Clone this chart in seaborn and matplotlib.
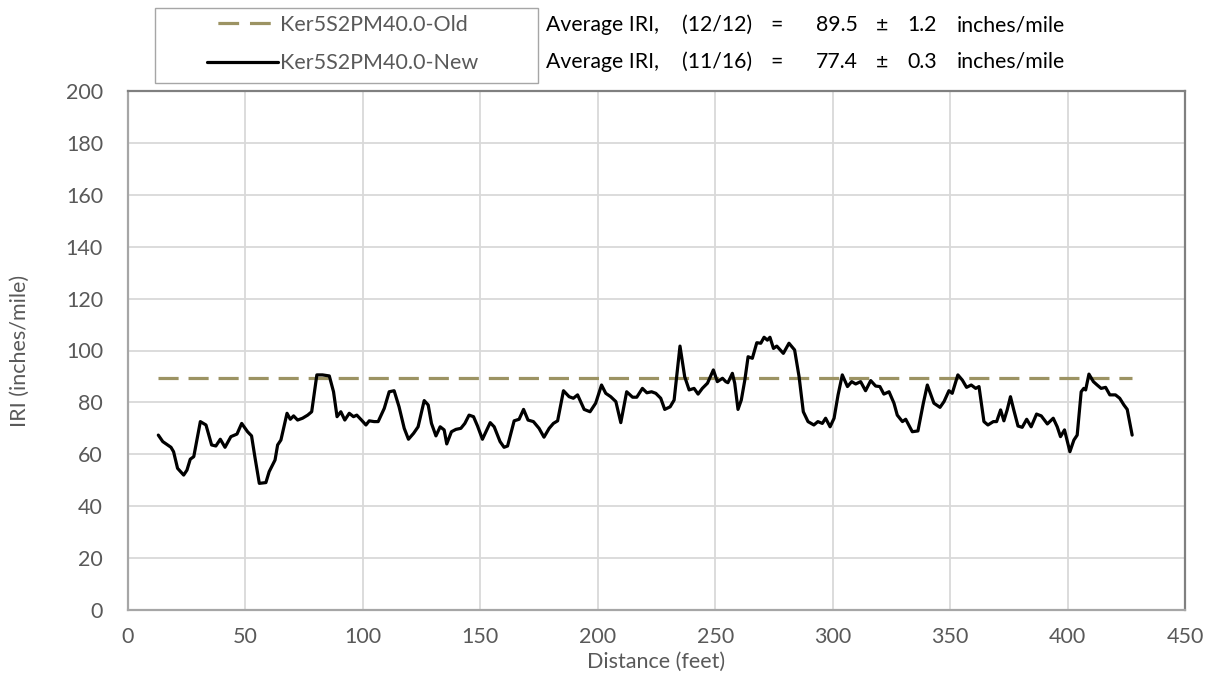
import matplotlib
matplotlib.use("Agg")
import matplotlib.pyplot as plt
from matplotlib.patches import Rectangle
from matplotlib.lines import Line2D
import numpy as np
import pandas as pd
import seaborn as sns

# Profile data: IRI along the section (new survey)
distance_ft = [
    12.9, 14.8, 18.3, 19.4, 21.1, 23.7, 25.1, 26.5, 28.0, 30.8, 33.2, 35.6, 37.4, 39.3,
    41.3, 43.8, 46.4, 48.4, 50.9, 52.6, 54.0, 55.9, 58.7, 60.1, 62.6, 63.7, 65.1, 67.7,
    69.1, 70.5, 72.2, 74.3, 76.5, 78.2, 80.4, 82.8, 85.7, 87.5, 89.0, 90.6, 92.3, 94.2,
    96.0, 97.4, 99.4, 101.3, 102.7, 104.8, 106.5, 109.1, 111.2, 113.3, 115.4, 117.6,
    119.4, 121.6, 123.5, 126.1, 127.8, 129.2, 131.1, 132.9, 134.6, 135.7, 137.7, 139.6,
    141.7, 143.4, 145.2, 147.1, 148.8, 150.9, 154.2, 155.9, 158.4, 160.1, 161.6, 164.4,
    166.5, 168.4, 170.3, 172.6, 175.0, 177.1, 179.3, 181.1, 182.9, 185.4, 187.8, 189.6,
    191.4, 194.2, 196.7, 199.1, 201.6, 203.4, 205.5, 207.7, 209.8, 212.3, 214.8, 216.6,
    219.0, 220.9, 222.9, 224.7, 226.8, 228.5, 230.8, 232.5, 233.9, 235.0, 237.0, 238.9,
    241.0, 242.7, 244.5, 246.7, 249.2, 250.9, 253.1, 254.5, 255.4, 257.3, 258.3, 259.7,
    261.1, 262.6, 264.0, 265.8, 267.7, 269.4, 270.8, 272.2, 273.3, 274.8, 276.2, 279.0,
    280.7, 281.4, 283.8, 285.7, 287.5, 289.5, 292.0, 293.7, 295.6, 297.0, 298.9, 300.6,
    302.3, 304.1, 306.3, 308.1, 309.8, 311.9, 314.0, 316.2, 318.3, 320.1, 321.8, 324.0,
    326.1, 327.5, 329.7, 331.1, 333.9, 336.3, 338.6, 340.3, 343.1, 345.7, 347.4, 349.5,
    350.9, 353.3, 355.2, 357.0, 359.0, 360.9, 362.3, 364.4, 366.1, 368.4, 369.8, 371.5,
    372.9, 374.3, 375.7, 377.1, 378.9, 380.7, 382.6, 384.5, 386.8, 388.8, 391.4, 393.9,
    395.6, 397.0, 398.7, 401.0, 402.7, 404.1, 405.8, 406.9, 407.7, 409.1, 411.0, 412.6,
    414.3, 416.2, 418.0, 420.4, 422.2, 424.0, 425.4, 427.5,
]
iri_new = [
    67.4, 64.9, 62.7, 61.0, 54.6, 52.0, 53.9, 58.1, 59.1, 72.6, 71.3, 63.6, 63.2, 65.8,
    62.7, 66.8, 67.8, 71.9, 68.7, 67.1, 59.1, 48.8, 49.1, 53.3, 57.8, 63.6, 65.5, 75.8,
    73.5, 74.8, 73.2, 73.9, 75.1, 76.4, 90.6, 90.6, 90.2, 84.1, 74.5, 76.4, 73.2, 75.8,
    74.5, 75.1, 73.2, 71.3, 72.9, 72.6, 72.6, 77.7, 84.1, 84.5, 78.3, 70.0,
    65.8, 68.1, 70.6, 80.7, 79.0, 71.9, 67.1, 70.6, 69.4, 64.0, 68.7, 69.6,
    70.0, 71.9, 75.1, 74.5, 70.9, 65.8, 72.2, 70.6, 64.9, 62.7, 63.2, 72.9,
    73.5, 77.3, 73.2, 72.6, 70.0, 66.6, 70.0, 71.9, 72.9, 84.5, 82.2, 81.6,
    82.9, 77.3, 76.4, 79.7, 86.7, 83.5, 82.2, 80.3, 72.2, 84.1, 82.0, 82.0,
    85.4, 83.7, 84.1, 83.5, 81.6, 77.3, 78.3, 80.9, 92.5, 101.7, 89.9, 84.8,
    85.4, 83.2, 85.4, 87.4, 92.5, 88.0, 89.3, 88.0, 87.6, 91.2, 87.4, 77.3,
    80.9, 88.6, 97.6, 97.0, 103.0, 102.8, 105.1, 104.0, 105.1, 100.8, 101.7, 98.9,
    101.7, 102.8, 100.2, 89.9, 76.4, 72.6, 71.3, 72.6, 71.9, 73.9, 70.6, 73.9,
    82.9, 90.6, 86.1, 88.0, 87.1, 88.0, 84.5, 88.4, 86.3, 86.1, 83.2, 84.1,
    79.7, 75.1, 72.6, 73.5, 68.7, 69.0, 79.7, 86.7, 79.7, 78.1, 80.3, 84.5,
    83.5, 90.6, 88.6, 85.8, 86.7, 85.4, 86.1, 72.6, 71.3, 72.6, 72.6, 77.1,
    72.9, 77.1, 82.2, 77.1, 70.9, 70.4, 73.5, 70.6, 75.5, 74.8, 71.7, 73.9,
    70.6, 66.8, 69.4, 61.0, 65.5, 67.4, 84.1, 85.4, 84.8, 90.9, 88.0, 86.7,
    85.4, 85.8, 82.9, 82.9, 81.6, 79.0, 77.3, 67.4,
]

# Section averages
avg_old = 89.5
sd_old = 1.2
avg_new = 77.4
sd_new = 0.3
label_old = "Ker5S2PM40.0-Old"
label_new = "Ker5S2PM40.0-New"
date_old = "(12/12)"
date_new = "(11/16)"

x_ticks = list(range(0, 451, 50))
y_ticks = list(range(0, 201, 20))

W, H = 1212, 687
GREY_TXT = "#595959"
OLD_COLOR = "#9c9363"
LW = 2.3

sns.set_theme(style="white")
plt.rcParams["font.family"] = ["Lato", "DejaVu Sans"]

fig = plt.figure(figsize=(W / 100, H / 100), dpi=100)


def fx(px):
    return px / W


def fy(py):
    return 1 - py / H


ax = fig.add_axes([fx(128), fy(610), fx(1185) - fx(128), fy(91) - fy(610)])

new_df = pd.DataFrame({"distance": distance_ft, "iri": iri_new})
old_df = pd.DataFrame({"distance": [distance_ft[0], distance_ft[-1]],
                       "iri": [avg_old, avg_old]})

sns.lineplot(data=old_df, x="distance", y="iri", ax=ax, color=OLD_COLOR,
             lw=LW, linestyle=(0, (6.3, 3.1)), legend=False)
sns.lineplot(data=new_df, x="distance", y="iri", ax=ax, color="black",
             lw=LW, legend=False, sort=False)
for ln in ax.get_lines():
    ln.set_solid_joinstyle("round")
    ln.set_solid_capstyle("round")
    ln.set_dash_capstyle("butt")

ax.set_xlim(0, 450)
ax.set_ylim(0, 200)
ax.set_xticks(x_ticks)
ax.set_yticks(y_ticks)
ax.grid(True, color="#d9d9d9", lw=1.3)
ax.set_axisbelow(True)
ax.tick_params(axis="both", length=0, labelsize=15.5, colors=GREY_TXT)
ax.tick_params(axis="y", pad=18)
ax.tick_params(axis="x", pad=12)
ax.set_xlabel("Distance (feet)", fontsize=15.5, color=GREY_TXT, labelpad=4)
ax.set_ylabel("IRI (inches/mile)", fontsize=15.5, color=GREY_TXT, labelpad=26)

for side in ("left", "bottom"):
    ax.spines[side].set_color("#a6a6a6")
    ax.spines[side].set_linewidth(1.6)
for side in ("top", "right"):
    ax.spines[side].set_color("#808080")
    ax.spines[side].set_linewidth(1.6)

# Legend box at the top
fig.add_artist(Rectangle((fx(155), fy(83)), fx(538) - fx(155), fy(8) - fy(83),
                         transform=fig.transFigure, fill=False,
                         edgecolor="#a6a6a6", lw=1.0))
legend_handles = [
    Line2D([], [], color=OLD_COLOR, lw=LW, linestyle=(6.5, (6.5, 3.4)),
           dash_capstyle="butt"),
    Line2D([], [], color="black", lw=LW),
]
leg = fig.legend(legend_handles, [label_old, label_new], loc="center left",
                 bbox_to_anchor=(fx(207), fy(44)), frameon=False,
                 fontsize=15.5, handlelength=3.3, handletextpad=0.1,
                 labelspacing=0.88, borderpad=0, borderaxespad=0)
for t in leg.get_texts():
    t.set_color(GREY_TXT)

# Average IRI summary lines
rows = [(25, date_old, avg_old, sd_old), (62, date_new, avg_new, sd_new)]
fs = 15.3
for py, date, avg, sd in rows:
    fig.text(fx(546), fy(py), "Average IRI,", fontsize=fs, ha="left", va="center", color="black")
    fig.text(fx(682), fy(py), date, fontsize=fs, ha="left", va="center", color="black")
    fig.text(fx(777), fy(py), "=", fontsize=fs, ha="center", va="center", color="black")
    fig.text(fx(858), fy(py), f"{avg:.1f}", fontsize=fs, ha="right", va="center", color="black")
    fig.text(fx(882), fy(py), "±", fontsize=fs, ha="center", va="center", color="black")
    fig.text(fx(922), fy(py), f"{sd:.1f}", fontsize=fs, ha="center", va="center", color="black")
    fig.text(fx(957), fy(py), "inches/mile", fontsize=fs, ha="left", va="center", color="black")

fig.savefig("out.png", dpi=100)
